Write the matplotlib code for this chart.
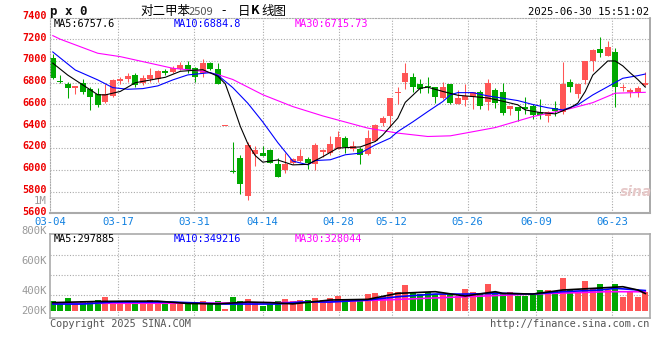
import numpy as np
import matplotlib
matplotlib.use('Agg')
import matplotlib.pyplot as plt
from matplotlib import transforms

# daily K-line data, 80 trading days (03-04 .. 06-30)
opens = [7030, 6812, 6788, 6752, 6797, 6745, 6694, 6621, 6679, 6812,
         6833, 6867, 6800, 6830, 6833, 6906, 6897, 6930, 6967, 6939,
         6891, 6985, 6930, 6400, 5990, 6112, 5761, 6149, 6158, 6179,
         6049, 5997, 6058, 6082, 6103, 6052, 6164, 6158, 6194, 6294,
         6188, 6188, 6149, 6261, 6430, 6491, 6706, 6803, 6849, 6785,
         6770, 6764, 6658, 6785, 6606, 6642, 6667, 6712, 6624, 6730,
         6712, 6561, 6573, 6573, 6582, 6527, 6491, 6570, 6527, 6806,
         6694, 6824, 6997, 7106, 7042, 7085, 6752, 6715, 6715, 6776]
highs = [7060, 6867, 6806, 6770, 6830, 6764, 6748, 6791, 6830, 6855,
         6888, 6894, 6867, 6939, 6915, 6930, 6958, 6994, 7003, 6942,
         7021, 6991, 6985, 6400, 6255, 6140, 6255, 6215, 6215, 6188,
         6112, 6158, 6109, 6188, 6115, 6242, 6194, 6306, 6358, 6315,
         6267, 6209, 6367, 6421, 6491, 6658, 6764, 6985, 6891, 6830,
         6849, 6764, 6806, 6785, 6730, 6785, 6718, 6730, 6830, 6748,
         6797, 6585, 6573, 6667, 6603, 6648, 6542, 6630, 6988, 6830,
         6785, 6997, 7109, 7224, 7185, 7118, 6785, 6748, 6770, 6897]
lows = [6830, 6800, 6661, 6694, 6697, 6552, 6579, 6615, 6667, 6785,
        6809, 6761, 6782, 6809, 6806, 6867, 6885, 6921, 6894, 6806,
        6852, 6921, 6788, 6400, 5967, 5776, 5721, 6033, 6130, 6058,
        5933, 5973, 6052, 6073, 6003, 5997, 6121, 6140, 6188, 6158,
        6173, 6052, 6140, 6261, 6406, 6391, 6603, 6739, 6715, 6703,
        6703, 6612, 6649, 6600, 6606, 6588, 6561, 6558, 6552, 6567,
        6503, 6503, 6449, 6512, 6467, 6467, 6442, 6491, 6512, 6718,
        6658, 6785, 6906, 7033, 7042, 6573, 6724, 6670, 6670, 6770]
closes = [6840, 6805, 6750, 6770, 6715, 6667, 6597, 6700, 6821, 6830,
          6858, 6782, 6845, 6867, 6906, 6888, 6933, 6967, 6915, 6852,
          6985, 6930, 6788, 6400, 5976, 5867, 6224, 6185, 6130, 6058,
          5933, 6049, 6103, 6124, 6058, 6230, 6182, 6239, 6303, 6209,
          6218, 6133, 6294, 6412, 6476, 6658, 6712, 6888, 6764, 6739,
          6758, 6667, 6764, 6615, 6658, 6679, 6718, 6588, 6797, 6615,
          6524, 6585, 6539, 6558, 6503, 6503, 6527, 6542, 6785, 6764,
          6785, 6997, 7097, 7073, 7133, 6764, 6761, 6730, 6755, 6800]
volumes = [167, 115, 219, 115, 167, 167, 185, 236, 156, 156,
           150, 167, 167, 185, 167, 127, 150, 127, 127, 150,
           167, 115, 167, 29, 236, 167, 202, 127, 81, 115,
           167, 202, 167, 185, 185, 219, 185, 219, 254, 185,
           185, 167, 288, 306, 254, 323, 323, 444, 323, 288,
           323, 288, 288, 288, 254, 375, 323, 288, 461, 323,
           288, 323, 254, 254, 271, 358, 358, 340, 565, 358,
           323, 513, 392, 461, 358, 461, 236, 323, 236, 323]  # K lots

# price moving averages (day index, value)
ma5_days = [0, 2, 4, 6, 7, 9, 11, 13, 15, 17, 20, 22, 23, 24, 25, 26, 27, 28,
            30, 32, 34, 36, 38, 41, 43, 44, 46, 47, 49, 50, 52, 54, 56, 58,
            60, 62, 63, 65, 67, 69, 70, 71, 72, 73, 74, 75, 76, 77, 78, 79]
ma5_vals = [6980, 6870, 6780, 6690, 6688, 6720, 6800, 6825, 6850, 6905, 6920,
            6860, 6790, 6600, 6400, 6240, 6130, 6070, 6090, 6045, 6050, 6120,
            6200, 6210, 6260, 6320, 6474, 6620, 6750, 6759, 6720, 6685, 6673,
            6660, 6630, 6597, 6550, 6526, 6514, 6570, 6612, 6720, 6870, 6935,
            7000, 7000, 6955, 6890, 6830, 6760]
ma10_days = [0, 3, 6, 8, 10, 12, 14, 16, 18, 21, 22, 24, 26, 28, 30, 32, 34,
             35, 37, 39, 41, 43, 45, 46, 48, 50, 52, 53, 54, 56, 58, 60, 62,
             64, 66, 68, 70, 72, 74, 76, 78, 79]
ma10_vals = [7083, 6917, 6826, 6755, 6740, 6746, 6771, 6826, 6872, 6893, 6870,
             6755, 6612, 6440, 6250, 6080, 6046, 6085, 6092, 6138, 6153, 6229,
             6291, 6351, 6440, 6535, 6627, 6688, 6709, 6709, 6679, 6658, 6636,
             6600, 6570, 6550, 6597, 6688, 6764, 6841, 6865, 6880]
ma30_days = [0, 1, 6, 9, 13, 16, 20, 22, 24, 28, 32, 36, 42, 46, 50, 53, 55,
             59, 64, 69, 72, 75, 79]
ma30_vals = [7233, 7200, 7071, 7040, 6979, 6933, 6905, 6875, 6830, 6690, 6581,
             6495, 6383, 6337, 6306, 6312, 6337, 6388, 6489, 6562, 6617, 6704,
             6712]

# volume moving averages (K)
vma5_days = [0, 3, 6, 10, 14, 18, 22, 26, 29, 32, 37, 42, 46, 51, 55, 59, 60,
             64, 68, 72, 76, 78, 79]
vma5_vals = [140, 150, 160, 165, 165, 125, 118, 150, 140, 118, 185, 196, 300,
             329, 254, 329, 300, 288, 358, 386, 415, 358, 298]
vma10_days = [0, 4, 8, 16, 23, 26, 30, 33, 37, 42, 46, 51, 55, 60, 64, 68, 73,
              75, 77, 79]
vma10_vals = [115, 115, 150, 150, 115, 115, 115, 150, 150, 185, 242, 288, 288,
              300, 288, 329, 358, 386, 369, 349]
vma30_days = [0, 20, 30, 37, 45, 53, 64, 74, 79]
vma30_vals = [128, 130, 140, 156, 190, 231, 288, 329, 328]

date_labels = ['03-04', '03-17', '03-31', '04-14', '04-28', '05-12', '05-26',
               '06-09', '06-23']
date_days = [0, 9, 19, 28, 38, 45, 55, 64, 74]
price_ticks = [7400, 7200, 7000, 6800, 6600, 6400, 6200, 6000, 5800, 5600]
vol_tick_labels = ['800K', '600K', '400K', '200K']

RED = '#ff5555'
GREEN = '#00a800'
GRID = '#aaaaaa'
MONO = 'DejaVu Sans Mono'
CJK = ['Noto Sans CJK SC', 'DejaVu Sans']

W, H = 660, 360
fig = plt.figure(figsize=(W / 100, H / 100), dpi=100)
fig.patch.set_facecolor('white')


def px_axes(l, t, r, b):
    return fig.add_axes([l / W, 1 - b / H, (r - l) / W, (b - t) / H])


def ftext(x, y, s, **kw):
    return fig.text(x / W, 1 - y / H, s, **kw)


n = len(closes)
o = np.array(opens, float)
c = np.array(closes, float)
hi = np.array(highs, float)
lo = np.array(lows, float)
x = np.arange(n) + 0.37
cols = np.where(c >= o, RED, GREEN)
tick_x = np.array(date_days) * n / (n - 1)
dotted = (0, (1, 1.5))

# ---- price panel
ax = px_axes(50, 18, 650, 213.3)
ax.set_xlim(0, n)
ax.set_ylim(5600, 7395)
ax.set_xticks([])
ax.set_yticks([])
for p in price_ticks[1:-1]:
    ax.axhline(p, color=GRID, lw=0.8, ls=dotted, zorder=0)
for tx in tick_x[1:]:
    ax.axvline(tx, color=GRID, lw=0.8, ls=dotted, zorder=0)

ax.vlines(x, lo, hi, colors=cols, lw=0.75, zorder=2)
body = np.maximum(np.abs(c - o), 9)
ax.bar(x, body, bottom=np.minimum(o, c), width=0.78, color=cols, lw=0, zorder=2)

ax.plot(np.array(ma30_days) + 0.37, ma30_vals, color='#ff00ff', lw=0.8, zorder=3)
ax.plot(np.array(ma10_days) + 0.37, ma10_vals, color='#0000ff', lw=0.8, zorder=3)
ax.plot(np.array(ma5_days) + 0.37, ma5_vals, color='black', lw=0.8, zorder=3)

for side in ['left', 'top']:
    ax.spines[side].set_color(GRID)
    ax.spines[side].set_linestyle(dotted)
    ax.spines[side].set_linewidth(0.8)
ax.spines['right'].set_color('#999999')
ax.spines['right'].set_linewidth(1.2)
ax.spines['bottom'].set_color('#aaaaaa')
ax.spines['bottom'].set_linewidth(1.5)

tr = transforms.blended_transform_factory(fig.transFigure, ax.transData)
for p in price_ticks:
    ax.text(46.5 / W, p + 15, str(p), transform=tr, ha='right', va='center',
            color='#ee0000', fontsize=7.3, fontfamily=MONO, fontweight='bold',
            clip_on=False)

ftext(636, 192, 'sina', color='#e6c8c8', fontsize=10, fontstyle='italic',
      fontweight='bold', ha='center', va='center')

ftext(54, 24, 'MA5:6757.6', color='black', fontsize=7.4, fontfamily=MONO, va='center')
ftext(174, 24, 'MA10:6884.8', color='#0000ff', fontsize=7.4, fontfamily=MONO, va='center')
ftext(295, 24, 'MA30:6715.73', color='#ff00ff', fontsize=7.4, fontfamily=MONO, va='center')

# ---- header
ftext(50, 11, 'p x 0', color='#111111', fontsize=9, fontfamily=MONO,
      fontweight='bold', va='center')
ftext(140, 11, '对二甲苯', color='black', fontsize=9, family=CJK, va='center')
ftext(189, 12, '2509', color='#555555', fontsize=8, family=CJK, va='center')
ftext(221, 11, '-', color='black', fontsize=9, family=CJK, va='center')
ftext(238, 11, '日', color='black', fontsize=9, family=CJK, va='center')
ftext(251, 11, 'K', color='black', fontsize=9, family=CJK, va='center',
      fontweight='bold')
ftext(261, 11, '线图', color='black', fontsize=9, family=CJK, va='center')
ftext(649, 12, '2025-06-30 15:51:02', color='black', fontsize=7.6,
      fontfamily=MONO, ha='right', va='center')

# ---- date labels
for tx, lab in zip(tick_x, date_labels):
    ftext(50 + 7.5 * tx, 222, lab, color='#1080e0', fontsize=7.6,
          fontfamily=MONO, ha='center', va='center')

# ---- volume panel
k = 17.3
axv = px_axes(50, 234.3, 650, 318.3)
axv.set_xlim(0, n)
axv.set_ylim(-(318.3 - 310.7) * k, (310.7 - 234.3) * k)
axv.set_xticks([])
axv.set_yticks([])
for gy in [295.3, 275, 255]:
    axv.axhline((310.7 - gy) * k, color=GRID, lw=0.8, ls=dotted, zorder=0)
for tx in tick_x[1:]:
    axv.axvline(tx, color=GRID, lw=0.8, ls=dotted, zorder=0)
axv.bar(x, volumes, width=0.78, color=cols, lw=0, zorder=2)
axv.plot(np.array(vma30_days) + 0.37, vma30_vals, color='#ff00ff', lw=1.2, zorder=3)
axv.plot(np.array(vma10_days) + 0.37, vma10_vals, color='#0000ff', lw=1.2, zorder=3)
axv.plot(np.array(vma5_days) + 0.37, vma5_vals, color='black', lw=1.2, zorder=3)
for s in axv.spines.values():
    s.set_color('#aaaaaa')
    s.set_linewidth(1.2)

for lab, yy in zip(vol_tick_labels, [230.7, 260.7, 290.7, 310.7]):
    ftext(46.5, yy, lab, color='#999999', fontsize=7.6, fontfamily=MONO,
          ha='right', va='center')
ftext(46.5, 200.5, '1M', color='#999999', fontsize=7.6, fontfamily=MONO,
      ha='right', va='center')

ftext(54, 238.5, 'MA5:297885', color='black', fontsize=7.4, fontfamily=MONO, va='center')
ftext(174, 238.5, 'MA10:349216', color='#0000ff', fontsize=7.4, fontfamily=MONO, va='center')
ftext(295, 238.5, 'MA30:328044', color='#ff00ff', fontsize=7.4, fontfamily=MONO, va='center')

ftext(50, 324, 'Copyright 2025 SINA.COM', color='#555555', fontsize=7.4,
      fontfamily=MONO, va='center')
ftext(649, 324, 'http://finance.sina.com.cn', color='#555555', fontsize=7.4,
      fontfamily=MONO, ha='right', va='center')

fig.savefig('out.png', dpi=100, facecolor='white')
